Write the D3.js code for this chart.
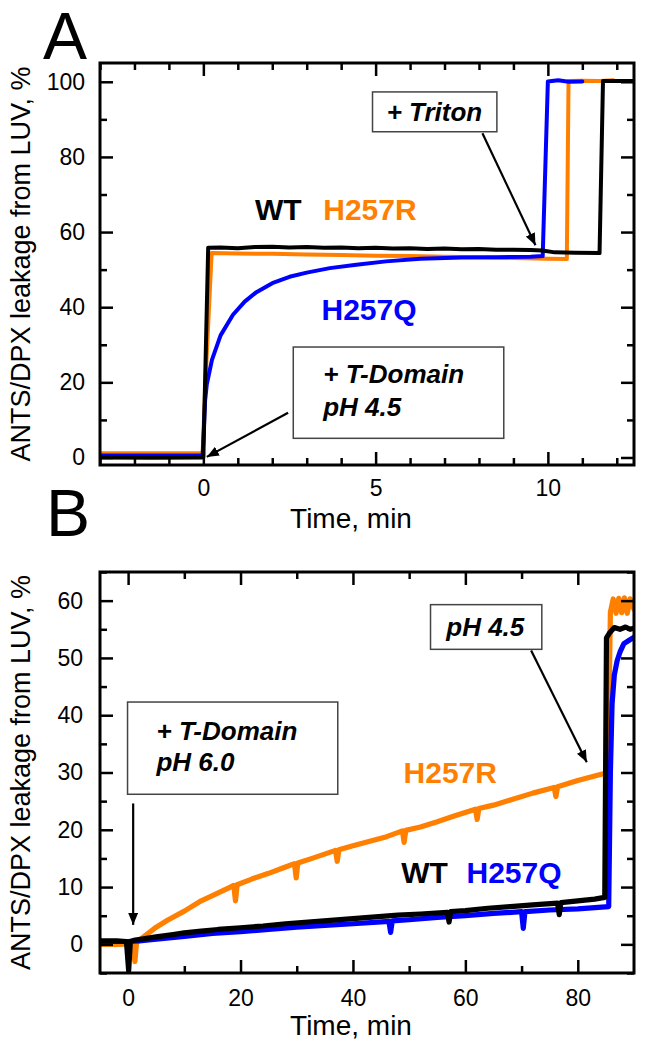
<!DOCTYPE html>
<html><head><meta charset="utf-8">
<script src="https://cdn.jsdelivr.net/npm/d3@7"></script>
<style>
html,body{margin:0;padding:0;background:#fff;}
svg{display:block;font-family:"Liberation Sans",Arial,sans-serif;}
</style></head>
<body><svg id="c" width="646" height="1050"></svg>
<script>
// ---------------- DATA ----------------
// Panel A (time in min, leakage %)
const aWT = [[-3,0.0],[-1.5,-0.1],[-0.05,0.0],[0,0.1],[0.14,55.8],[0.5,55.9],[1,55.7],[1.5,56.0],[2,56.1],[2.5,55.9],[3,56.0],[3.5,55.8],[4,55.9],[4.5,55.7],[5,55.8],[5.5,55.6],[6,55.7],[6.5,55.5],[7,55.6],[7.5,55.4],[8,55.5],[8.5,55.3],[9,55.3],[9.5,55.2],[9.84,55.1],[10.2,54.6],[10.8,54.5],[11.5,54.4],[11.6,100.2],[12,100.2],[12.5,100.2]];
const aH257R = [[-3,1.1],[-1.5,1.1],[-0.02,1.1],[0.06,20],[0.24,54.4],[1,54.3],[2,54.2],[3,54.0],[4,53.9],[5,53.7],[6,53.6],[7,53.4],[8,53.3],[9,53.1],[10,52.9],[10.55,52.8],[10.6,100.2],[11,100.3],[11.5,100.2],[11.9,100.4]];
const aH257Q = [[-3,0.5],[-1.5,0.5],[-0.02,0.5],[0.05,15],[0.1,19.5],[0.25,26],[0.5,32.5],[0.86,38],[1.2,41.5],[1.54,44],[2,46.4],[2.5,48.1],[3,49.2],[3.67,50.4],[4.44,51.3],[5.3,52.2],[6.3,52.9],[7.5,53.2],[8.5,53.3],[9.5,53.4],[9.85,53.6],[10.0,100.1],[10.3,100.4],[10.6,100.0],[11.0,100.1]];

// Panel B
const bWT = [[-5,0.6],[-2,0.6],[-0.3,0.5],[0.1,-4.6],[0.4,0.5],[1,0.7],[3,1.0],[5,1.3],[8,1.7],[10,2.0],[13,2.3],[16,2.6],[20,2.9],[24,3.2],[28,3.6],[32,3.9],[36,4.2],[40,4.5],[44,4.8],[48,5.1],[52,5.3],[56.8,5.6],[57.1,3.9],[57.4,5.7],[60,5.9],[64,6.3],[68,6.6],[72,6.9],[76.4,7.2],[76.7,5.2],[77,7.3],[80,7.6],[83,7.9],[84.8,8.2],[85.1,53.5],[85.6,54.3],[86.5,55.3],[87.5,55.0],[88.5,55.4],[89.3,55.0],[90,55.2]];
const bH257R = [[-5,0.0],[-2,0.0],[0.8,0.1],[1.2,-3.0],[1.5,0.3],[3,1.5],[5,3.0],[7,4.2],[10,5.8],[13,7.6],[15,8.5],[18,9.9],[18.8,10.3],[19.1,7.6],[19.4,10.4],[22,11.4],[25,12.4],[28,13.5],[29.6,14.1],[29.9,11.6],[30.2,14.2],[33,15.1],[36.9,16.4],[37.2,14.5],[37.5,16.5],[40,17.2],[43,18.0],[46,18.8],[48.8,19.8],[49.1,17.8],[49.4,19.9],[52,20.5],[55,21.4],[58,22.4],[61.8,23.6],[62.1,21.8],[62.4,23.7],[65,24.3],[68,25.2],[72,26.4],[75.8,27.4],[76.1,25.8],[76.4,27.5],[80,28.6],[83,29.4],[85.4,30.0],[85.6,45],[85.8,58],[86.3,60.3],[86.8,57.8],[87.3,60.4],[87.8,57.9],[88.3,60.5],[88.8,57.8],[89.3,60.3],[90,58.5]];
const bH257Q = [[-5,0.5],[0,0.5],[2,0.6],[5,0.9],[10,1.4],[15,1.9],[20,2.2],[25,2.6],[30,3.0],[35,3.3],[40,3.6],[46.4,4.0],[46.7,2.1],[47,4.1],[50,4.3],[55,4.7],[60,5.0],[65,5.4],[70,5.7],[70.3,2.8],[70.6,5.7],[75,6.0],[80,6.2],[85.5,6.6],[85.8,30],[86.1,42],[86.5,47],[87,49.5],[87.5,51],[88.2,52.5],[89,53],[90,53.6]];

// Tick values
const aXMajor = [0,5,10];
const aXMinor = [-3,-2,-1,1,2,3,4,6,7,8,9,11,12];
const aYMajor = [0,20,40,60,80,100];
const aYMinor = [10,30,50,70,90];
const bXMajor = [0,20,40,60,80];
const bXMinor = [10,30,50,70];
const bYMajor = [0,10,20,30,40,50,60];
const bYMinor = [-5,5,15,25,35,45,55,65];

const colors = {WT:"#000000", H257R:"#FF7F00", H257Q:"#0000FF"};

// ---------------- DRAW ----------------
const svg = d3.select("#c");
const defs = svg.append("defs");
defs.append("marker").attr("id","arr").attr("viewBox","0 0 12 10").attr("refX",12).attr("refY",5)
  .attr("markerWidth",12).attr("markerHeight",10).attr("markerUnits","userSpaceOnUse").attr("orient","auto")
  .append("path").attr("d","M0,0 L12,5 L0,10 Z").attr("fill","#000");

function panel(opt){
  const {x,y,id} = opt;
  const [x0,x1] = x.range(), [y0,y1] = y.range();
  const g = svg.append("g");
  defs.append("clipPath").attr("id","clip"+id).append("rect")
    .attr("x",x0).attr("y",y1).attr("width",x1-x0).attr("height",y0-y1);

  const line = d3.line().x(d=>x(d[0])).y(d=>y(d[1]));
  const lg = g.append("g").attr("clip-path",`url(#clip${id})`);
  opt.series.forEach(s=>{
    lg.append("path").datum(s.data).attr("d",line).attr("fill","none")
      .attr("stroke",s.color).attr("stroke-width",opt.lw).attr("stroke-linejoin","round").attr("stroke-linecap","round");
  });

  function ax(gen, tr, vals, size, labels){
    const a = gen.tickValues(vals).tickSize(-size).tickPadding(opt.pad);
    if(!labels) a.tickFormat("");
    const sel = g.append("g").attr("transform",tr).call(a);
    sel.select(".domain").remove();
    sel.selectAll("line").attr("stroke","#000").attr("stroke-width",2.5);
    sel.selectAll("text").attr("font-size",23).attr("fill","#000").attr("font-family","Liberation Sans, Arial, sans-serif");
    return sel;
  }
  ax(d3.axisBottom(x), `translate(0,${y0})`, opt.xMajor, 13, true);
  ax(d3.axisBottom(x), `translate(0,${y0})`, opt.xMinor, 7, false);
  ax(d3.axisTop(x), `translate(0,${y1})`, opt.xMajor, 13, false);
  ax(d3.axisTop(x), `translate(0,${y1})`, opt.xMinor, 7, false);
  ax(d3.axisLeft(y), `translate(${x0},0)`, opt.yMajor, 13, true);
  ax(d3.axisLeft(y), `translate(${x0},0)`, opt.yMinor, 7, false);
  ax(d3.axisRight(y), `translate(${x1},0)`, opt.yMajor, 13, false);
  ax(d3.axisRight(y), `translate(${x1},0)`, opt.yMinor, 7, false);

  g.append("rect").attr("x",x0).attr("y",y1).attr("width",x1-x0).attr("height",y0-y1)
    .attr("fill","none").attr("stroke","#000").attr("stroke-width",3);

  // titles
  g.append("text").attr("x",opt.letter[0]).attr("y",opt.letter[1]).attr("font-size",66).text(id);
  g.append("text").attr("x",351).attr("y",opt.xTitleY).attr("text-anchor","middle").attr("font-size",28).text("Time, min");
  g.append("text").attr("transform",`translate(30,${(y0+y1)/2}) rotate(-90)`).attr("text-anchor","middle")
    .attr("font-size",27).text("ANTS/DPX leakage from LUV, %");

  // series labels
  opt.labels.forEach(l=>{
    g.append("text").attr("x",x(l.t)).attr("y",y(l.v)).attr("font-size",30).attr("font-weight","bold")
      .attr("fill",l.color).text(l.text);
  });
  // boxes
  opt.boxes.forEach(b=>{
    g.append("rect").attr("x",x(b.t0)).attr("y",y(b.v0)).attr("width",x(b.t1)-x(b.t0)).attr("height",y(b.v1)-y(b.v0))
      .attr("fill","#fff").attr("stroke","#444").attr("stroke-width",1.5);
    b.lines.forEach(L=>{
      g.append("text").attr("x",x(b.tx)).attr("y",y(L[0])).attr("font-size",26).attr("font-weight","bold")
        .attr("font-style","italic").text(L[1]);
    });
  });
  opt.arrows.forEach(a=>{
    g.append("line").attr("x1",x(a[0])).attr("y1",y(a[1])).attr("x2",x(a[2])).attr("y2",y(a[3]))
      .attr("stroke","#000").attr("stroke-width",2.2).attr("marker-end","url(#arr)");
  });
}

panel({
  id:"A",
  x:d3.scaleLinear().domain([-3,12.5]).range([100,634]),
  y:d3.scaleLinear().domain([-2,105]).range([465,63]),
  lw:4, pad:15,
  series:[{data:aH257R,color:colors.H257R},{data:aH257Q,color:colors.H257Q},{data:aWT,color:colors.WT}],
  xMajor:aXMajor,xMinor:aXMinor,yMajor:aYMajor,yMinor:aYMinor,
  letter:[43,59], xTitleY:528,
  labels:[{t:1.5,v:63.2,text:"WT",color:colors.WT},{t:3.48,v:63.2,text:"H257R",color:colors.H257R},{t:3.43,v:36.6,text:"H257Q",color:colors.H257Q}],
  boxes:[{t0:4.91,t1:8.52,v0:97.3,v1:86.7,tx:5.32,lines:[[89.5,"+ Triton"]]},
         {t0:2.61,t1:8.72,v0:29.4,v1:5.1,tx:3.48,lines:[[19.7,"+ T-Domain"],[11.0,"pH 4.5"]]}],
  arrows:[[8.1,86.3,9.64,56.5],[2.46,11.9,0.1,0.16]]
});

panel({
  id:"B",
  x:d3.scaleLinear().domain([-5,90]).range([100,634]),
  y:d3.scaleLinear().domain([-5,65]).range([973,572]),
  lw:5.2, pad:17,
  series:[{data:bH257R,color:colors.H257R},{data:bH257Q,color:colors.H257Q},{data:bWT,color:colors.WT}],
  xMajor:bXMajor,xMinor:bXMinor,yMajor:bYMajor,yMinor:bYMinor,
  letter:[46,536], xTitleY:1035,
  labels:[{t:49,v:28.1,text:"H257R",color:colors.H257R},{t:48.6,v:10.7,text:"WT",color:colors.WT},{t:60.2,v:10.7,text:"H257Q",color:colors.H257Q}],
  boxes:[{t0:-0.1,t1:37.3,v0:42.3,v1:26.2,tx:5.05,lines:[[35.6,"+ T-Domain"],[30.2,"pH 6.0"]]},
         {t0:53.8,t1:73.6,v0:59.3,v1:51.5,tx:56.6,lines:[[53.9,"pH 4.5"]]}],
  arrows:[[0.9,24.6,0.9,3.4],[71.7,51.3,81.6,31.8]]
});
</script></body></html>
